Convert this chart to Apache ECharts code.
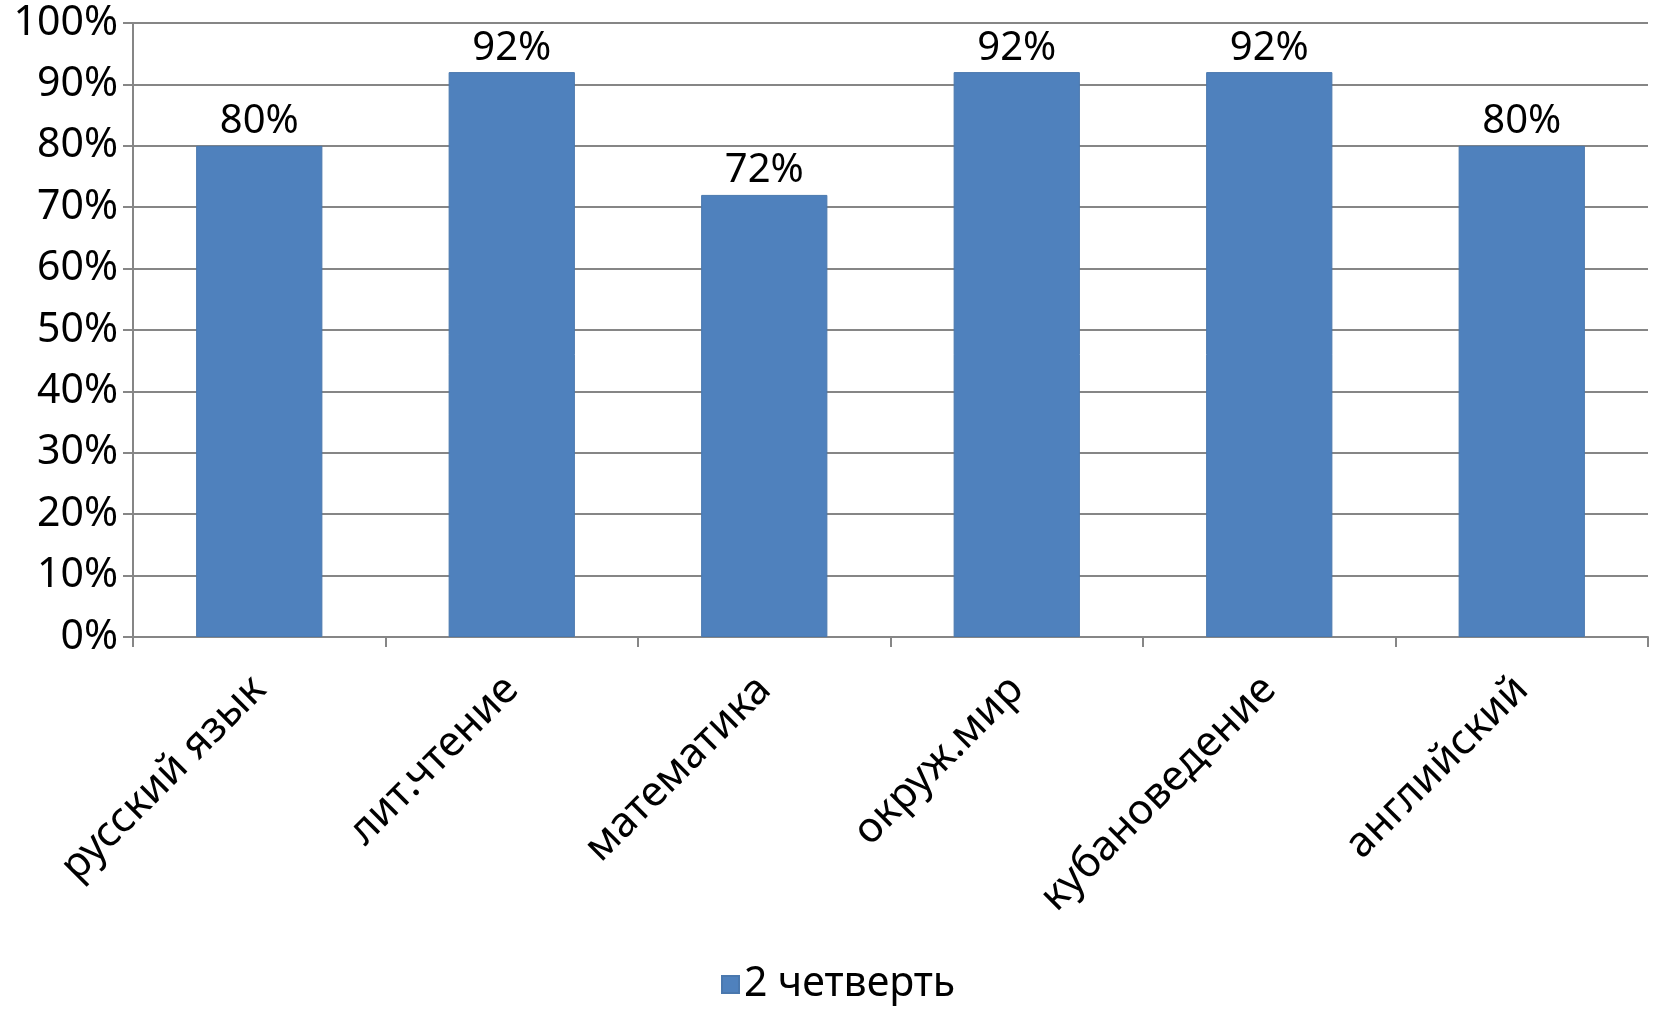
<!DOCTYPE html>
<html>
<head>
<meta charset="utf-8">
<script src="https://cdn.jsdelivr.net/npm/echarts@6/dist/echarts.min.js"></script>
<style>
html,body{margin:0;padding:0;background:#fff;}
#chart{width:1655px;height:1010px;}
</style>
</head>
<body>
<div id="chart"></div>
<script>
const categories = ['русский язык', 'лит.чтение', 'математика', 'окруж.мир', 'кубановедение', 'английский'];
const seriesName = '2 четверть';
const values = [80, 92, 72, 92, 92, 80];
const yMin = 0, yMax = 100, yInterval = 10;

const chart = echarts.init(document.getElementById('chart'));
const font = 'Noto Sans';
const axisColor = '#868686';
chart.setOption({
  animation: false,
  backgroundColor: '#ffffff',
  grid: { left: 133, right: 7, top: 23, bottom: 373, containLabel: false },
  legend: {
    bottom: 0,
    left: 716,
    itemWidth: 17, itemHeight: 17, itemGap: 4,
    icon: 'rect',
    textStyle: { fontFamily: font, fontSize: 41, color: '#000' },
    data: [seriesName]
  },
  xAxis: {
    type: 'category',
    data: categories,
    boundaryGap: true,
    axisLine: { lineStyle: { color: axisColor, width: 2 } },
    axisTick: { show: true, length: 10, lineStyle: { color: axisColor, width: 2 } },
    axisLabel: { rotate: 45, margin: 46, fontFamily: font, fontSize: 42, color: '#000', interval: 0 }
  },
  yAxis: {
    type: 'value',
    min: yMin, max: yMax, interval: yInterval,
    axisLine: { show: true, lineStyle: { color: axisColor, width: 2 } },
    axisTick: { show: true, length: 10, lineStyle: { color: axisColor, width: 2 } },
    axisLabel: { formatter: '{value}%', margin: 15, fontFamily: font, fontSize: 41, color: '#000' },
    splitLine: { show: true, lineStyle: { color: axisColor, width: 2 } }
  },
  series: [{
    name: seriesName,
    type: 'bar',
    data: values,
    barCategoryGap: '50%',
    itemStyle: { color: '#4F81BD', borderColor: '#4A78AE', borderWidth: 1 },
    label: { show: true, position: 'top', distance: 4, formatter: '{c}%', fontFamily: font, fontSize: 40, color: '#000' }
  }]
});
</script>
</body>
</html>
